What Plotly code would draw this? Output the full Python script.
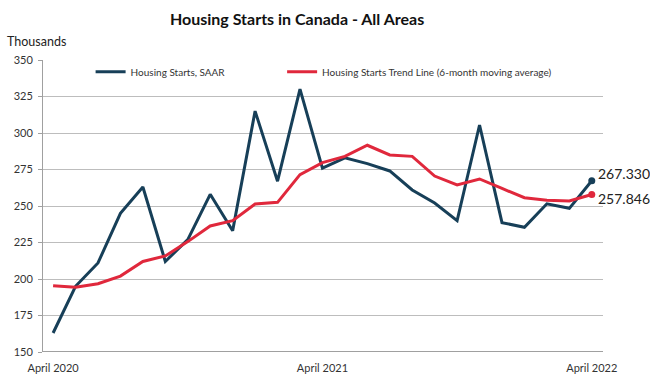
import plotly.graph_objects as go

months = ["Apr 2020", "May 2020", "Jun 2020", "Jul 2020", "Aug 2020", "Sep 2020", "Oct 2020",
          "Nov 2020", "Dec 2020", "Jan 2021", "Feb 2021", "Mar 2021", "Apr 2021", "May 2021",
          "Jun 2021", "Jul 2021", "Aug 2021", "Sep 2021", "Oct 2021", "Nov 2021", "Dec 2021",
          "Jan 2022", "Feb 2022", "Mar 2022", "Apr 2022"]
saar = [163, 195, 211, 245, 263, 212, 227, 258, 233, 315, 267, 330, 276, 283, 279, 274,
        261, 252, 240, 305.5, 238.6, 235.4, 251.5, 248.4, 267.330]
trend = [195.4, 194.3, 196.8, 202, 212, 215.8, 225.6, 236.3, 240, 251.4, 252.5, 271.5,
         279.7, 284, 291.6, 285, 284, 270.5, 264.4, 268.5, 262, 255.7, 254, 253.4, 257.846]
tick_labels = ["April 2020", "April 2021", "April 2022"]
tick_idx = [0, 12, 24]

BLUE = "#173F58"
RED = "#E0283C"
x = list(range(len(months)))

fig = go.Figure()
fig.add_trace(go.Scatter(x=x, y=saar, mode="lines", name="Housing Starts, SAAR",
                         line=dict(color=BLUE, width=3), customdata=months, legend="legend"))
fig.add_trace(go.Scatter(x=x, y=trend, mode="lines",
                         name="Housing Starts Trend Line (6-month moving average)",
                         line=dict(color=RED, width=3), customdata=months, legend="legend2"))
fig.add_trace(go.Scatter(x=[x[-1]], y=[saar[-1]], mode="markers", showlegend=False,
                         marker=dict(color=BLUE, size=7), cliponaxis=False))
fig.add_trace(go.Scatter(x=[x[-1]], y=[trend[-1]], mode="markers", showlegend=False,
                         marker=dict(color=RED, size=7), cliponaxis=False))
fig.add_annotation(x=x[-1], y=saar[-1], text=f"{saar[-1]:.3f}", showarrow=False,
                   xanchor="left", yanchor="middle", xshift=4, yshift=7,
                   font=dict(size=14, color="#222222", family="Lato"))
fig.add_annotation(x=x[-1], y=trend[-1], text=f"{trend[-1]:.3f}", showarrow=False,
                   xanchor="left", yanchor="middle", xshift=4, yshift=-4,
                   font=dict(size=14, color="#222222", family="Lato"))

legend_common = dict(orientation="h", y=0.96, xanchor="left", yanchor="middle",
                     bgcolor="rgba(0,0,0,0)", font=dict(size=10, color="#333333"))
fig.update_layout(
    width=650, height=380,
    margin=dict(l=43, r=47, t=60, b=28, autoexpand=False),
    paper_bgcolor="white", plot_bgcolor="white",
    font=dict(family="Lato", size=11, color="#333333"),
    title=dict(text="<b>Housing Starts in Canada - All Areas</b>", x=0.457, xanchor="center",
               y=0.948, yanchor="middle", font=dict(size=16, color="#111111", family="Lato")),
    legend=dict(x=0.085, **legend_common),
    legend2=dict(x=0.427, **legend_common),
    showlegend=True,
)
fig.update_xaxes(range=[-0.45, 24.5], tickvals=tick_idx, ticktext=tick_labels,
                 showgrid=False, showline=False, zeroline=False, ticks="", automargin=False,
                 ticklabelstandoff=8, tickfont=dict(size=11, color="#333333"))
fig.update_yaxes(range=[150, 350], dtick=25, tick0=150, showgrid=True, gridcolor="#BDBDBD",
                 gridwidth=1, showline=True, linecolor="#A0A0A0", linewidth=1, zeroline=False,
                 ticks="outside", ticklen=4, tickcolor="#A0A0A0", automargin=False,
                 ticklabelstandoff=3, tickfont=dict(size=11, color="#333333"))
fig.add_shape(type="line", xref="paper", yref="y", x0=0, x1=1, y0=150, y1=150,
              line=dict(color="#808080", width=1.5))
fig.add_annotation(text="Thousands", xref="paper", yref="paper", x=-0.068, y=1.062,
                   xanchor="left", yanchor="middle", showarrow=False,
                   font=dict(size=12.5, color="#222222", family="Lato"))

fig.write_html("out.html", config={"displayModeBar": False},
               post_script="document.body.style.margin='0px';")
